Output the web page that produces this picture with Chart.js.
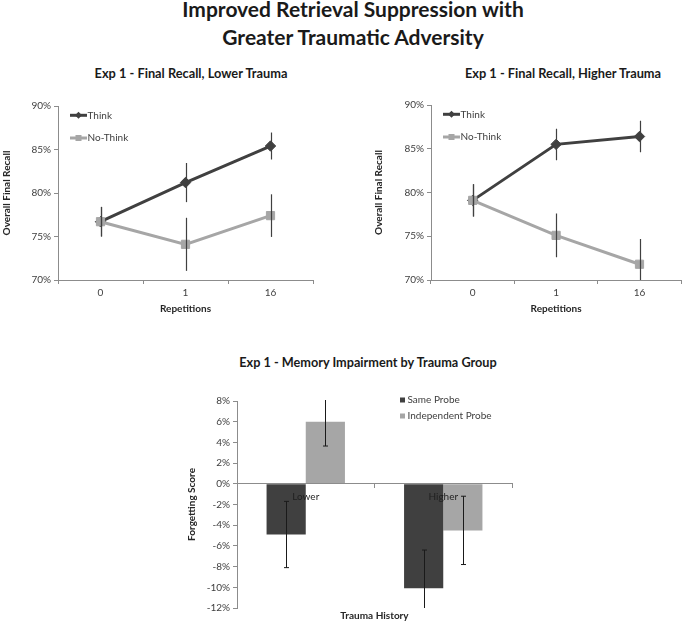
<!DOCTYPE html>
<html>
<head>
<meta charset="utf-8">
<script src="https://cdn.jsdelivr.net/npm/chart.js@4.4.0/dist/chart.umd.min.js"></script>
<style>
body { margin: 0; width: 688px; height: 624px; background: #fff; position: relative; overflow: hidden; font-family: Lato, sans-serif; color: #1a1a1a; }
.t { position: absolute; white-space: nowrap; text-align: center; font-weight: bold; transform: translateX(-50%); }
.box { position: absolute; }
</style>
</head>
<body>
<div class="t" style="left:353px;top:-5.5px;font-size:21px;line-height:28px">Improved Retrieval Suppression with<br>Greater Traumatic Adversity</div>
<div class="t" style="left:191px;top:65.5px;font-size:12.8px;line-height:14px">Exp 1 - Final Recall, Lower Trauma</div>
<div class="t" style="left:563px;top:65.5px;font-size:12.8px;line-height:14px">Exp 1 - Final Recall, Higher Trauma</div>
<div class="t" style="left:368px;top:355px;font-size:12.7px;line-height:14px">Exp 1 - Memory Impairment by Trauma Group</div>

<div class="box" style="left:0;top:60px;width:344px;height:260px"><canvas id="lowChart"></canvas></div>
<div class="box" style="left:344px;top:60px;width:344px;height:260px"><canvas id="highChart"></canvas></div>
<div class="box" style="left:180px;top:320px;width:360px;height:304px"><canvas id="barChart"></canvas></div>

<script>
// data (percent)
var repetitions = ['0', '1', '16'];
var lowThink = [76.7, 81.2, 85.4];
var lowThinkErr = [1.7, 2.25, 1.55];
var lowNoThink = [76.7, 74.1, 77.4];
var lowNoThinkErr = [1.7, 3.05, 2.45];
var highThink = [79.1, 85.5, 86.4];
var highThinkErr = [1.85, 1.8, 1.8];
var highNoThink = [79.1, 75.1, 71.8];
var highNoThinkErr = [1.85, 2.5, 2.9];

var groups = ['Lower', 'Higher'];
var sameProbe = [-4.9, -10.1];
var sameProbeErr = [3.2, 3.7];
var indepProbe = [6.0, -4.5];
var indepProbeErr = [2.35, 3.3];

var DARK = '#404040';
var LIGHT = '#a6a6a6';
var AXIS = '#8c8c8c';
var TXT = '#404040';
var TITLE = '#262626';

var errorBars = {
    id: 'errorBars',
    afterDatasetsDraw: function(chart) {
        var ctx = chart.ctx, a = chart.chartArea, y = chart.scales.y;
        ctx.save();
        ctx.beginPath();
        ctx.rect(a.left, a.top - 1, a.right - a.left, a.bottom - a.top + 1);
        ctx.clip();
        chart.data.datasets.forEach(function(ds, di) {
            if (!ds.errors) return;
            var meta = chart.getDatasetMeta(di);
            ctx.strokeStyle = ds.errColor;
            ctx.lineWidth = ds.errWidth;
            meta.data.forEach(function(el, i) {
                var x = Math.round(el.x) + 0.5;
                var y1 = y.getPixelForValue(ds.data[i] + ds.errors[i]);
                var y2 = y.getPixelForValue(ds.data[i] - ds.errors[i]);
                ctx.beginPath();
                ctx.moveTo(x, y1);
                ctx.lineTo(x, y2);
                if (ds.errCap) {
                    ctx.moveTo(x - ds.errCap, y1); ctx.lineTo(x + ds.errCap, y1);
                    ctx.moveTo(x - ds.errCap, y2); ctx.lineTo(x + ds.errCap, y2);
                }
                ctx.stroke();
            });
        });
        ctx.restore();
    }
};

// legend drawn inside the plot, like the original
var inLegend = {
    id: 'inLegend',
    afterDraw: function(chart, args, o) {
        var ctx = chart.ctx, a = chart.chartArea;
        ctx.save();
        ctx.font = '10px Lato';
        ctx.textBaseline = 'middle';
        chart.data.datasets.forEach(function(ds, k) {
            var x = a.left + o.dx, y = a.top + o.dy + k * o.step;
            ctx.fillStyle = ds.backgroundColor;
            if (o.kind === 'line') {
                ctx.strokeStyle = ds.borderColor;
                ctx.lineWidth = 3;
                ctx.beginPath(); ctx.moveTo(x, y); ctx.lineTo(x + 17, y); ctx.stroke();
                var cx = x + 8.5;
                ctx.beginPath();
                if (ds.pointStyle === 'rectRot') {
                    ctx.moveTo(cx, y - 3.5); ctx.lineTo(cx + 3.5, y); ctx.lineTo(cx, y + 3.5); ctx.lineTo(cx - 3.5, y);
                    ctx.closePath(); ctx.fill();
                } else {
                    ctx.fillRect(cx - 3, y - 3, 6, 6);
                }
                ctx.fillStyle = TXT;
                ctx.fillText(ds.label, x + 17.5, y);
            } else {
                ctx.fillRect(x, y - 2.5, 5, 5);
                ctx.fillStyle = TXT;
                ctx.fillText(ds.label, x + 7.5, y);
            }
        });
        ctx.restore();
    }
};

function lineChart(id, think, thinkErr, noThink, noThinkErr, pad, yWidth) {
    return new Chart(document.getElementById(id), {
        type: 'line',
        data: {
            labels: repetitions,
            datasets: [{
                label: 'Think', data: think, errors: thinkErr, errColor: DARK, errWidth: 1.2,
                borderColor: DARK, backgroundColor: DARK, borderWidth: 3,
                pointStyle: 'rectRot', pointRadius: 5.2, pointHoverRadius: 5.2, pointBorderWidth: 1, order: 1
            }, {
                label: 'No-Think', data: noThink, errors: noThinkErr, errColor: DARK, errWidth: 1.2,
                borderColor: LIGHT, backgroundColor: LIGHT, borderWidth: 3,
                pointStyle: 'rect', pointRadius: 5.8, pointHoverRadius: 5.8, pointBorderWidth: 1, order: 0
            }]
        },
        options: {
            animation: false,
            responsive: true,
            maintainAspectRatio: false,
            layout: { padding: pad },
            plugins: {
                legend: { display: false },
                tooltip: { enabled: false },
                inLegend: { dx: 12, dy: 9.3, step: 22.7, kind: 'line' }
            },
            scales: {
                x: {
                    offset: true,
                    grid: { offset: true, drawOnChartArea: false, tickLength: 4, color: AXIS },
                    border: { color: AXIS },
                    ticks: { color: TXT, font: { family: 'Lato', size: 10 }, padding: 3 },
                    title: { display: true, text: 'Repetitions', color: TITLE, font: { family: 'Lato', size: 10, weight: 'bold' }, padding: { top: 0, bottom: 5 } },
                    afterFit: function(s) { s.height = 40; }
                },
                y: {
                    min: 70, max: 90,
                    grid: { drawOnChartArea: false, tickLength: 4, color: AXIS },
                    border: { color: AXIS },
                    ticks: { stepSize: 5, color: TXT, font: { family: 'Lato', size: 10 }, padding: 3, callback: function(v) { return v + '%'; } },
                    title: { display: true, text: 'Overall Final Recall', color: TITLE, font: { family: 'Lato', size: 10, weight: 'bold' }, padding: { top: 1, bottom: 0 } },
                    afterFit: function(s) { s.width = yWidth; }
                }
            }
        },
        plugins: [errorBars, inLegend]
    });
}

lineChart('lowChart', lowThink, lowThinkErr, lowNoThink, lowNoThinkErr, { top: 46, right: 31, left: 0, bottom: 0 }, 58);
lineChart('highChart', highThink, highThinkErr, highNoThink, highNoThinkErr, { top: 45, right: 2, left: 28, bottom: 0 }, 59);

new Chart(document.getElementById('barChart'), {
    type: 'bar',
    data: {
        labels: groups,
        datasets: [{
            label: 'Same Probe', data: sameProbe, errors: sameProbeErr, errColor: '#1a1a1a', errWidth: 1, errCap: 2.5,
            backgroundColor: DARK, xAxisID: 'x', categoryPercentage: 0.57, barPercentage: 1
        }, {
            label: 'Independent Probe', data: indepProbe, errors: indepProbeErr, errColor: '#1a1a1a', errWidth: 1, errCap: 2.5,
            backgroundColor: LIGHT, xAxisID: 'x', categoryPercentage: 0.57, barPercentage: 1
        }]
    },
    options: {
        animation: false,
        responsive: true,
        maintainAspectRatio: false,
        layout: { padding: { top: 81, right: 28, left: 6, bottom: 0 } },
        plugins: {
            legend: { display: false },
            tooltip: { enabled: false },
            inLegend: { dx: 163, dy: -1, step: 16, kind: 'bar' }
        },
        scales: {
            x: {
                position: { y: 0 },
                grid: { offset: true, drawOnChartArea: false, tickLength: 4, color: AXIS },
                border: { color: AXIS, z: 1 },
                ticks: { color: '#1f1f1f', font: { family: 'Lato', size: 10 }, padding: 3, z: 1 }
            },
            x2: {
                type: 'category',
                labels: groups,
                position: 'bottom',
                grid: { display: false },
                border: { display: false },
                ticks: { display: false },
                title: { display: true, text: 'Trauma History', color: TITLE, font: { family: 'Lato', size: 10, weight: 'bold' }, padding: { top: 0, bottom: 2 } },
                afterFit: function(s) { s.height = 16; }
            },
            y: {
                min: -12, max: 8,
                grid: { drawOnChartArea: false, tickLength: 4, color: AXIS },
                border: { color: AXIS },
                ticks: { stepSize: 2, color: TXT, font: { family: 'Lato', size: 10 }, padding: 3, callback: function(v) { return v + '%'; } },
                title: { display: true, text: 'Forgetting Score', color: TITLE, font: { family: 'Lato', size: 10, weight: 'bold' }, padding: { top: 0, bottom: 0 } },
                afterFit: function(s) { s.width = 51; }
            }
        }
    },
    plugins: [errorBars, inLegend]
});
</script>
</body>
</html>
